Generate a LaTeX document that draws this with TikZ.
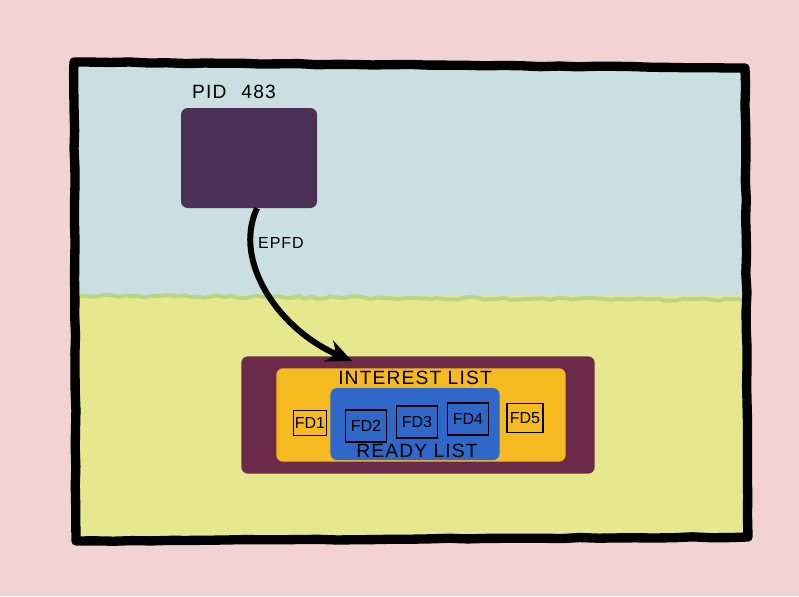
\documentclass[tikz,border=0pt]{standalone}
\usepackage{fontspec}
\setmainfont{Liberation Sans}
\newfontfamily\hand[LetterSpace=6]{Liberation Sans}
\usetikzlibrary{arrows.meta,decorations.pathmorphing}
\definecolor{pinkbg}{RGB}{242,210,210}
\definecolor{sky}{RGB}{201,223,226}
\definecolor{grass}{RGB}{229,232,140}
\definecolor{ridge}{RGB}{186,213,132}
\definecolor{procpurple}{RGB}{76,49,86}
\definecolor{epollred}{RGB}{108,42,74}
\definecolor{interest}{RGB}{245,186,32}
\definecolor{ready}{RGB}{48,104,202}
\begin{document}
\begin{tikzpicture}[x=0.75pt,y=-0.75pt,every node/.style={font=\hand\Large},
  blob/.style={rounded corners=5pt,inner sep=0pt},
  fdbox/.style={draw,thick,inner sep=1pt,font=\large}]
\pgfmathsetseed{7}
\fill[pinkbg] (0,0) rectangle (799,596);
\fill[sky] (75,64) rectangle (746,300); \fill[grass] (75,296) rectangle (746,539);
\draw[ridge,line width=3pt,decorate,decoration={random steps,segment length=5pt,amplitude=1pt}] (78,296) -- (743,300);
\draw[line width=7pt,line join=round,decorate,decoration={random steps,segment length=14pt,amplitude=0.4pt}] (74,62) -- (745,68) -- (748,537) -- (76,541) -- cycle;
% process and its epoll instance
\node[blob,fill=procpurple,minimum width=102pt,minimum height=75pt] (pid) at (249,158) {};
\node (pidlbl) at (234,92) {PID\;\, 483};
\node[blob,fill=epollred,minimum width=265pt,minimum height=88pt] (epoll) at (418,415) {};
\node[blob,fill=interest,minimum width=217pt,minimum height=70pt] (interest) at (421,415) {};
\node[blob,fill=ready,minimum width=127pt,minimum height=54pt] (ready) at (415,424) {};
\node (intlbl) at (415,378) {INTEREST LIST}; \node (rdylbl) at (417,451) {READY LIST};
\node[fdbox,minimum width=22pt,minimum height=19pt] (fd1) at (310,423) {FD1};
\node[fdbox,minimum width=31pt,minimum height=24pt] (fd2) at (366,426) {FD2};
\node[fdbox,minimum width=31pt,minimum height=24pt] (fd3) at (417,422) {FD3};
\node[fdbox,minimum width=31pt,minimum height=24pt] (fd4) at (468,419) {FD4};
\node[fdbox,minimum width=27pt,minimum height=22pt] (fd5) at (525,418) {FD5};
\coordinate (tip) at (352,361);
\draw[line width=4.5pt,-{Stealth[length=19pt,width=17pt]}] ([xshift=6pt]pid.south) .. controls (232,262) and (280,330) .. (tip);
\node[font=\hand\large] (epfd) at (281,243) {EPFD};
\end{tikzpicture}
\end{document}
